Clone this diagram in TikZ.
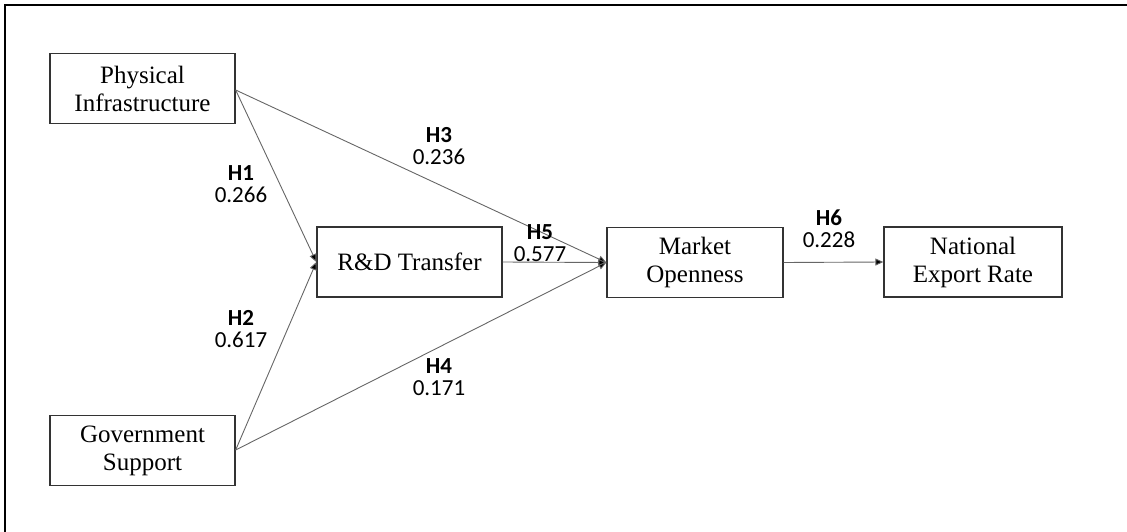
\documentclass[tikz,border=0pt]{standalone}
\usepackage{fontspec}
\setmainfont{Liberation Serif}
\newfontfamily\lblfont{Carlito}
\usetikzlibrary{arrows.meta}
\tikzset{
  box/.style={draw=black!80, line width=1.3pt, minimum width=185pt, minimum height=70pt, align=center, font=\fontsize{25}{28}\selectfont, inner sep=0pt},
  conn/.style={draw=black!60, line width=0.9pt, -{Triangle[length=8pt,width=7pt,fill=black]}},
  lbl/.style={align=center, font=\lblfont\fontsize{23}{22}\selectfont, inner sep=0pt},
}
\begin{document}
\begin{tikzpicture}[x=1pt,y=-1pt]
\useasboundingbox (0,0) rectangle (1127,532);
\draw[line width=1.6pt] (5,532) -- (5,5) -- (1127,5);
\node[box] (pi) at (142.5,88.5) {Physical\\Infrastructure};
\node[box] (gs) at (142.5,450.5) {Government\\Support};
\node[box] (rd) at (409.5,262) {R\&D Transfer};
\node[box, minimum width=176pt] (mo) at (695,262.5) {Market\\Openness};
\node[box, minimum width=178pt] (ne) at (973,262) {National\\Export Rate};
\draw[conn] (pi.east |- 0,90) -- (rd.west);
\draw[conn] (pi.east |- 0,90) -- (mo.west);
\draw[conn] (gs.east |- 0,450) -- (rd.west);
\draw[conn] (gs.east |- 0,450) -- (mo.west);
\draw[conn] (rd.east) -- (mo.west);
\draw[conn] (mo.east) -- (ne.west);
\node[lbl] (l1) at (241,184) {\textbf{H1}\\0.266};
\node[lbl] (l2) at (241,329) {\textbf{H2}\\0.617};
\node[lbl] (l3) at (439,146) {\textbf{H3}\\0.236};
\node[lbl] (l4) at (439,377) {\textbf{H4}\\0.171};
\node[lbl] (l5) at (540,243) {\textbf{H5}\\0.577};
\node[lbl] (l6) at (829,229) {\textbf{H6}\\0.228};
\end{tikzpicture}
\end{document}
